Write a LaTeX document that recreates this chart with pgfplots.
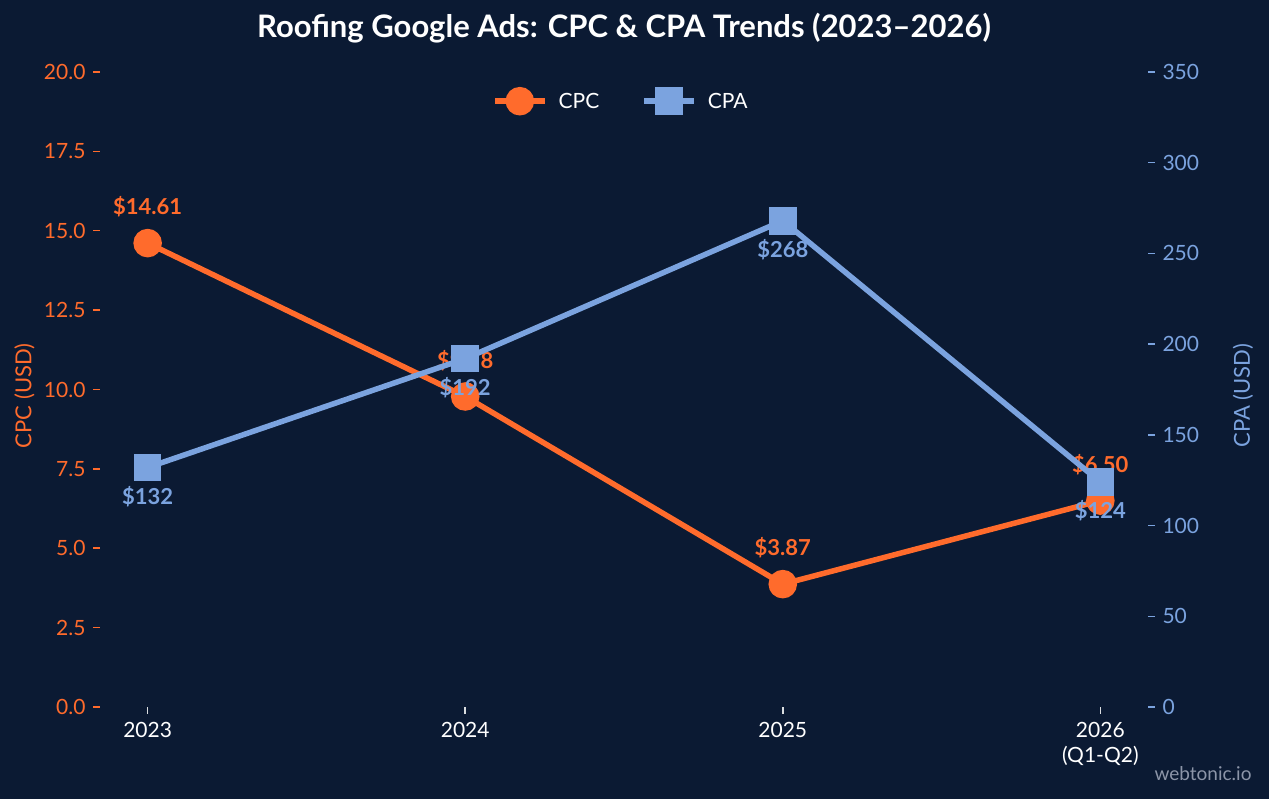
\documentclass[border=0pt]{standalone}
\usepackage{pgfplots}
\pgfplotsset{compat=1.18}
\usepackage{fontspec}
\setmainfont{Lato}
\definecolor{bg}{HTML}{0B1A33}
\definecolor{cpc}{HTML}{FF6B2C}
\definecolor{cpa}{HTML}{7BA3DF}
\definecolor{wm}{HTML}{8C95A8}
\begin{document}
\begin{tikzpicture}[x=1pt,y=1pt]
\fill[bg] (0,0) rectangle (1269,799);
\useasboundingbox (0,0) rectangle (1269,799);
\pgfplotsset{
 common/.style={
  at={(100pt,92pt)}, anchor=south west,
  scale only axis, width=1048pt, height=635pt,
  xmin=-0.15, xmax=3.15, clip=false,
  axis line style={draw=none},
  major tick length=7pt, tick align=outside,
  /pgf/number format/assume math mode=true,
  tick label style={font=\fontsize{21}{25}\selectfont},
 }}
\begin{axis}[common,
  ymin=0, ymax=20, ytick={0,2.5,...,20},
  ytick pos=left, xtick pos=bottom,
  yticklabel style={text=cpc, xshift=-4pt, /pgf/number format/fixed, /pgf/number format/fixed zerofill, /pgf/number format/precision=1},
  y tick style={cpc, line width=1.5pt},
  xtick={0,1,2,3}, xticklabels={2023,2024,2025,{2026\\(Q1-Q2)}},
  xticklabel style={text=white, align=center, yshift=-5pt},
  x tick style={white!85!bg, line width=1.5pt},
  ylabel={CPC (USD)}, ylabel style={text=cpc, font=\fontsize{22}{26}\selectfont, at={(axis description cs:-0.072,0.49)}, anchor=center},
]
\addplot[cpc, line width=5.5pt, mark=*, mark size=11.5pt, mark options={solid},
  point meta=explicit symbolic, nodes near coords,
  every node near coord/.append style={anchor=center, yshift=36pt, text=cpc, font=\bfseries\fontsize{22}{26}\selectfont}]
  coordinates {(0,14.61)[\$14.61] (1,9.78)[\$9.78] (2,3.87)[\$3.87] (3,6.50)[\$6.50]};
\end{axis}
\begin{axis}[common,
  ymin=0, ymax=350, ytick={0,50,...,350},
  ytick pos=right, yticklabel pos=right, hide x axis,
  yticklabel style={text=cpa, xshift=4pt},
  y tick style={cpa, line width=1.5pt},
  ylabel={CPA (USD)}, ylabel style={text=cpa, font=\fontsize{22}{26}\selectfont, at={(axis description cs:1.0906,0.49)}, anchor=center},
  legend style={at={(0.497,0.954)}, anchor=center, draw=none, fill=none, text=white, font=\fontsize{21}{25}\selectfont, legend columns=2,
    /tikz/every odd column/.append style={column sep=9pt},
    /tikz/every even column/.append style={column sep=40pt}},
  legend image code/.code={\draw[mark repeat=2,mark phase=2,#1] plot coordinates {(0pt,0pt) (25pt,0pt) (50pt,0pt)};},
]
\addlegendimage{cpc, line width=5.5pt, mark=*, mark size=11.5pt, mark options={solid}}
\addlegendentry{CPC}
\addplot[cpa, line width=5.5pt, mark=square*, mark size=11pt, mark options={solid},
  point meta=explicit symbolic, nodes near coords,
  every node near coord/.append style={anchor=center, yshift=-29pt, text=cpa, font=\bfseries\fontsize{22}{26}\selectfont}]
  coordinates {(0,132)[\$132] (1,192)[\$192] (2,268)[\$268] (3,124)[\$124]};
\addlegendentry{CPA}
\end{axis}
\node[text=white, font=\bfseries\fontsize{31}{36}\selectfont] at (624,771) {Roofing Google Ads: CPC \& CPA Trends (2023–2026)};
\node[anchor=east, text=wm, font=\fontsize{19}{22}\selectfont] at (1255,25) {webtonic.io};
\end{tikzpicture}
\end{document}
